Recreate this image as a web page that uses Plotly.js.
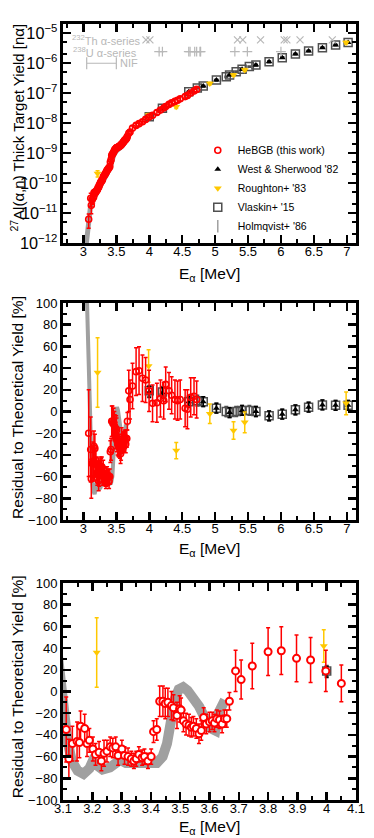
<!DOCTYPE html>
<html>
<head>
<meta charset="utf-8">
<script src="https://cdn.plot.ly/plotly-3.0.1.min.js"></script>
<style>html,body{margin:0;padding:0;background:#fff}#chart{width:374px;height:838px}</style>
</head>
<body>
<div id="chart"></div>
<script>
// HeBGB (this work): energy [MeV], thick target yield [n/alpha], residual to theory [%]
const heE = [3.080, 3.111, 3.120, 3.132, 3.148, 3.156, 3.160, 3.174, 3.182, 3.190,
    3.202, 3.211, 3.223, 3.231, 3.240, 3.250, 3.261, 3.270, 3.280, 3.288,
    3.301, 3.310, 3.322, 3.333, 3.342, 3.350, 3.359, 3.370, 3.378, 3.390,
    3.401, 3.409, 3.420, 3.430, 3.441, 3.449, 3.458, 3.470, 3.477, 3.489,
    3.498, 3.503, 3.511, 3.520, 3.530, 3.538, 3.545, 3.555, 3.564, 3.572,
    3.580, 3.589, 3.600, 3.609, 3.617, 3.625, 3.634, 3.643, 3.651, 3.659,
    3.668, 3.689, 3.708, 3.746, 3.800, 3.845, 3.897, 3.945, 3.997, 4.050,
    4.116, 4.170, 4.220, 4.250, 4.300, 4.340, 4.390, 4.430, 4.470, 4.545,
    4.580, 4.630, 4.680, 4.720];
const heYield = [6.2e-12, 3.1e-11, 1.8e-11, 2.8e-11, 3.2e-11, 3.5e-11, 4.7e-11, 5.0e-11, 4.7e-11, 5.2e-11,
    5.6e-11, 6.0e-11, 7.1e-11, 7.2e-11, 8.3e-11, 9.3e-11, 1.05e-10, 1.12e-10, 1.23e-10, 1.26e-10,
    1.58e-10, 1.70e-10, 1.86e-10, 2.04e-10, 2.19e-10, 2.40e-10, 2.63e-10, 2.82e-10, 3.02e-10, 3.24e-10,
    3.55e-10, 5.0e-10, 6.0e-10, 8.3e-10, 9.1e-10, 9.8e-10, 1.05e-9, 1.20e-9, 1.29e-9, 1.38e-9,
    1.45e-9, 1.48e-9, 1.51e-9, 1.55e-9, 1.58e-9, 1.62e-9, 1.66e-9, 1.74e-9, 1.78e-9, 1.86e-9,
    2.00e-9, 2.04e-9, 2.19e-9, 2.34e-9, 2.45e-9, 2.63e-9, 2.75e-9, 2.82e-9, 3.02e-9, 3.16e-9,
    3.63e-9, 4.57e-9, 5.0e-9, 6.8e-9, 8.3e-9, 9.5e-9, 1.10e-8, 1.32e-8, 1.58e-8, 1.82e-8,
    2.24e-8, 2.69e-8, 3.16e-8, 3.55e-8, 4.17e-8, 4.68e-8, 5.25e-8, 5.75e-8, 6.46e-8, 7.59e-8,
    8.32e-8, 1.00e-7, 1.17e-7, 1.32e-7];
const heRes = [-20, -35, -62, -48, -46, -47, -32, -34, -48, -45,
    -53, -58, -56, -64, -57, -55, -51, -52, -51, -59,
    -53, -59, -60, -62, -64, -62, -58, -61, -60, -64,
    -60, -37, -35, -9, -9, -11, -10, -13, -15, -22,
    -16, -17, -27, -30, -31, -33, -32, -34, -39, -36,
    -24, -30, -28, -27, -29, -25, -26, -30, -25, -25,
    -9, 19, 11, 23.5, 36.7, 37.6, 30.6, 29, 19, 7.5,
    8, 12, 10, 25, 19, 15, 11, 10, 11, 3,
    2, 13, 14, 11];
const heResErr = [40, 30, 18, 16, 18, 14, 14, 13, 12, 11,
    11, 10, 10, 9, 12, 10, 9, 9, 9, 9,
    8, 8, 8, 7, 7, 7, 7, 7, 7, 7,
    7, 10, 10, 14, 14, 14, 13, 13, 12, 12,
    12, 11, 10, 10, 10, 9, 9, 9, 9, 9,
    9, 9, 9, 8, 8, 8, 8, 8, 8, 8,
    8, 19, 18, 21, 22, 22, 21.5, 20.7, 19, 17,
    18, 17, 17, 16, 17, 17, 18, 18, 18, 17,
    18, 18, 17, 17];

// West & Sherwood '82
const wsE = [4.00, 4.20, 4.60, 4.82, 5.02, 5.22, 5.41, 5.62, 5.82, 6.02, 6.22, 6.42, 6.63, 6.83, 7.02];
const wsYield = [1.62e-8, 3.09e-8, 1.10e-7, 1.70e-7, 2.69e-7, 3.98e-7, 6.17e-7, 8.51e-7, 1.10e-6, 1.51e-6, 2.00e-6, 2.51e-6, 3.24e-6, 3.98e-6, 4.79e-6];
const wsRes = [18, 17, 9, 9, 3, -1, 1, 0, -4, -2.5, 1.5, 4, 6, 5.7, 5.7];
const wsResErr = [5, 5, 5, 4.5, 4.5, 4.5, 4.5, 4.5, 4.5, 4.5, 4.5, 4.5, 4.5, 4.5, 4.5];

// Vlaskin+ '15
const vlE = [4.00, 4.20, 4.60, 4.73, 4.82, 5.02, 5.17, 5.22, 5.32, 5.41, 5.52, 5.62, 5.82, 6.02, 6.22, 6.42, 6.63, 6.83, 7.02];
const vlYield = [1.62e-8, 3.09e-8, 1.10e-7, 1.48e-7, 1.70e-7, 2.69e-7, 3.47e-7, 3.98e-7, 5.13e-7, 6.17e-7, 7.59e-7, 8.51e-7, 1.10e-6, 1.51e-6, 2.00e-6, 2.51e-6, 3.24e-6, 3.98e-6, 4.79e-6];
const vlRes = [19, 18, 9, 10, 9, 3, 0, -1, 0, 1, 1, 0, -4, -2.5, 1.5, 4, 6, 5.7, 5.7];
const vlResErr = [5, 5, 5, 5, 4.5, 4.5, 4.5, 4.5, 4.5, 4.5, 4.5, 4.5, 4.5, 4.5, 4.5, 4.5, 4.5, 4.5, 4.5];

// Roughton+ '83
const rgE = [3.215, 3.99, 4.41, 4.92, 5.28, 5.45, 6.99];
const rgYield = [2.09e-10, 1.86e-8, 3.47e-8, 2.09e-7, 3.98e-7, 5.89e-7, 4.79e-6];
const rgRes = [36, 42, -36, -2, -17.5, -10, 7.5];
const rgResErr = [32, 15, 7.5, 9, 8, 9.5, 10.5];

// Holmqvist+ '86 (dense points, drawn as a band)
const holmYE = [3.045, 3.055, 3.065, 3.075, 3.085, 3.095, 3.11, 3.13, 3.16, 3.2, 3.25, 3.3, 3.35, 3.4, 3.43, 3.46, 3.5, 3.55, 3.6];
const holmY = [1e-12, 1.6e-12, 3.2e-12, 5.5e-12, 9e-12, 1.3e-11, 1.8e-11, 2.4e-11, 3.2e-11, 4.5e-11, 7e-11, 1.1e-10, 1.8e-10, 3.0e-10, 5.0e-10, 8.5e-10, 1.15e-9, 1.45e-9, 1.8e-9];
const holmE = [3.055, 3.065, 3.075, 3.085, 3.095, 3.10, 3.115, 3.13, 3.15, 3.17, 3.19, 3.20, 3.215, 3.235, 3.26, 3.28, 3.295, 3.315,
    3.35, 3.385, 3.42, 3.44, 3.455, 3.47, 3.48, 3.495, 3.51, 3.525, 3.545, 3.565, 3.585, 3.605, 3.62, 3.63, 3.645, 3.66];
const holmRes = [100, 75, 45, 15, -8, -22, -45, -64, -73, -76, -71, -65, -69, -72, -70, -66, -63, -66,
    -66, -67, -66, -60, -48, -25, -8, 2, 4, 1, -6, -14, -25, -34, -36, -20, -12, -14];

// alpha source lines and NIF range
const thE = [3.95, 4.01, 5.34, 5.42, 5.69, 6.05, 6.09, 6.29, 6.78];
const uE = [4.15, 4.20, 4.60, 4.62, 4.69, 4.72, 4.77, 4.78, 5.30, 5.49, 6.00];
const nifRange = [3.05, 3.5];
const thRowY = 5.9e-6, uRowY = 2.4e-6, nifRowY = 9.8e-7;

const FONT = 'Liberation Sans, Arial, Helvetica, sans-serif';
const RED = '#ff0000', GOLD = '#ffc800', GREY = '#a0a0a0', DARK = '#505050', LIGHT = '#b8b8b8';

function errBar(arr, color, w) {
    return { type: 'data', array: arr, color: color, thickness: 1.5, width: w };
}

function relErr(y, res, err) {
    return y.map((v, i) => v * err[i] / (100 + res[i]));
}

function panelTraces(xa, ya, useYield, bandWidth, heSize) {
    let one = xa === 'x';
    let pick = (yv, rv) => useYield ? yv : rv;
    let traces = [];
    traces.push({
        x: useYield ? holmYE : holmE, y: useYield ? holmY : holmRes,
        mode: 'lines', line: { color: GREY, width: bandWidth },
        xaxis: xa, yaxis: ya, showlegend: false, hoverinfo: 'skip'
    });
    traces.push({
        x: vlE, y: pick(vlYield, vlRes), name: "Vlaskin+ '15", legendrank: 4,
        mode: 'markers', marker: { symbol: 'square-open', size: 8, color: DARK, line: { width: 1.5 } },
        error_y: errBar(useYield ? relErr(vlYield, vlRes, vlResErr) : vlResErr, DARK, 2),
        xaxis: xa, yaxis: ya, showlegend: one
    });
    traces.push({
        x: wsE, y: pick(wsYield, wsRes), name: "West & Sherwood '82", legendrank: 2,
        mode: 'markers', marker: { symbol: 'triangle-up', size: 6, color: 'black' },
        error_y: errBar(useYield ? relErr(wsYield, wsRes, wsResErr) : wsResErr, 'black', 2),
        xaxis: xa, yaxis: ya, showlegend: one
    });
    traces.push({
        x: rgE, y: pick(rgYield, rgRes), name: "Roughton+ '83", legendrank: 3,
        mode: 'markers', marker: { symbol: 'triangle-down', size: 7, color: GOLD },
        error_y: errBar(useYield ? relErr(rgYield, rgRes, rgResErr) : rgResErr, GOLD, 2),
        xaxis: xa, yaxis: ya, showlegend: one
    });
    let he = {
        x: heE, y: pick(heYield, heRes), name: 'HeBGB (this work)', legendrank: 1,
        mode: 'markers',
        marker: { symbol: 'circle-open', size: heSize, color: RED, line: { width: 1.6 } },
        error_y: errBar(useYield ? relErr(heYield, heRes, heResErr) : heResErr, RED, 2),
        xaxis: xa, yaxis: ya, showlegend: one
    };
    if (xa === 'x3') {
        he.marker = { symbol: 'circle', size: heSize, color: 'white', line: { width: 2, color: RED } };
        he.error_x = { type: 'constant', value: 0.008, color: RED, thickness: 2, width: 0 };
    }
    traces.push(he);
    return traces;
}

let data = [];
data = data.concat(panelTraces('x', 'y', true, 5, 6));
data.push({
    x: [null], y: [null], name: "Holmqvist+ '86", legendrank: 5, mode: 'markers',
    marker: { symbol: 'line-ns-open', size: 9, color: GREY, line: { width: 1.5, color: GREY } },
    xaxis: 'x', yaxis: 'y'
});
data.push({
    x: thE, y: thE.map(() => thRowY), mode: 'markers', showlegend: false,
    marker: { symbol: 'x-thin-open', size: 7, color: LIGHT, line: { width: 1.2, color: LIGHT } },
    xaxis: 'x', yaxis: 'y'
});
data.push({
    x: uE, y: uE.map(() => uRowY), mode: 'markers', showlegend: false,
    marker: { symbol: 'cross-thin-open', size: 7, color: LIGHT, line: { width: 1.2, color: LIGHT } },
    xaxis: 'x', yaxis: 'y'
});
data.push({
    x: [nifRange[0]], y: [nifRowY], mode: 'markers', showlegend: false,
    marker: { size: 1, color: 'rgba(0,0,0,0)' },
    error_x: { type: 'data', symmetric: false, array: [nifRange[1] - nifRange[0]], arrayminus: [0],
        color: LIGHT, thickness: 1.2, width: 6 },
    xaxis: 'x', yaxis: 'y'
});
data = data.concat(panelTraces('x2', 'y2', false, 4, 6));
data = data.concat(panelTraces('x3', 'y3', false, 10, 7));

function frameAxis(extra) {
    return Object.assign({
        showline: true, linewidth: 3, linecolor: 'black', mirror: 'allticks',
        ticks: 'inside', ticklen: 8, tickwidth: 2.5, tickcolor: 'black',
        showgrid: false, zeroline: false, fixedrange: true,
        tickfont: { family: FONT, size: 13, color: 'black' }
    }, extra);
}

function minor(dtick) {
    return { ticks: 'inside', ticklen: 4, tickwidth: 2, tickcolor: 'black', dtick: dtick, showgrid: false };
}

let titleFont = { family: FONT, size: 15.5, color: 'black' };
let yTitleFont = { family: FONT, size: 15, color: 'black' };
let labelFont = { family: FONT, size: 11, color: LIGHT };

let annotations = [
    { text: '<sup>27</sup>Al(α,n) Thick Target Yield [nα]', x: -0.155, y: 0.866, textangle: -90, font: yTitleFont },
    { text: 'Residual to Theoretical Yield [%]', x: -0.155, y: 0.506, textangle: -90 },
    { text: 'Residual to Theoretical Yield [%]', x: -0.155, y: 0.146, textangle: -90 },
    { text: 'E<sub>α</sub> [MeV]', x: 0.5, y: 0.6778, textangle: 0 },
    { text: 'E<sub>α</sub> [MeV]', x: 0.5, y: 0.3234, textangle: 0 },
    { text: 'E<sub>α</sub> [MeV]', x: 0.5, y: -0.0348, textangle: 0 }
].map(a => Object.assign({ xref: 'paper', yref: 'paper', showarrow: false,
    xanchor: 'center', yanchor: 'middle', font: titleFont }, a));

annotations.push(
    { text: '<sup>232</sup>Th α-series', x: 3.9, y: Math.log10(thRowY), xanchor: 'right' },
    { text: '<sup>238</sup>U α-series', x: 3.84, y: Math.log10(uRowY), xanchor: 'right' },
    { text: 'NIF', x: 3.53, y: Math.log10(nifRowY), xanchor: 'left' }
);
annotations = annotations.map(a => a.xref ? a : Object.assign({
    xref: 'x', yref: 'y', showarrow: false, yanchor: 'middle', font: labelFont
}, a));

let xTicks = { ticklabelstandoff: -6 };

let layout = {
    width: 374, height: 838,
    margin: { l: 63, r: 18, t: 24, b: 38 },
    paper_bgcolor: 'white', plot_bgcolor: 'white',
    font: { family: FONT, color: 'black' },
    showlegend: true,
    legend: {
        x: 0.46, y: 0.856, xanchor: 'left', yanchor: 'top',
        font: { family: FONT, size: 10.5, color: 'black' },
        bgcolor: 'rgba(0,0,0,0)', itemwidth: 30
    },
    xaxis: frameAxis(Object.assign({ domain: [0, 1], anchor: 'y', range: [2.69, 7.14], dtick: 0.5, tick0: 3, minor: minor(0.25) }, xTicks)),
    yaxis: frameAxis({ domain: [0.7178, 1], anchor: 'x', type: 'log', range: [-12, -4.7], dtick: 1,
        exponentformat: 'power', minor: { ticks: 'inside', ticklen: 4, tickwidth: 2, tickcolor: 'black', dtick: 'D2' } }),
    xaxis2: frameAxis(Object.assign({ domain: [0, 1], anchor: 'y2', range: [2.69, 7.14], dtick: 0.5, tick0: 3, minor: minor(0.25) }, xTicks)),
    yaxis2: frameAxis({ domain: [0.3608, 0.6405], anchor: 'x2', range: [-100, 100], dtick: 20, minor: minor(10) }),
    xaxis3: frameAxis(Object.assign({ domain: [0, 1], anchor: 'y3', range: [3.1, 4.1], dtick: 0.1, tick0: 3.1, minor: minor(0.05) }, xTicks)),
    yaxis3: frameAxis({ domain: [0, 0.2796], anchor: 'x3', range: [-100, 100], dtick: 20, minor: minor(10) }),
    annotations: annotations
};

Plotly.newPlot('chart', data, layout, { staticPlot: true });
</script>
</body>
</html>
